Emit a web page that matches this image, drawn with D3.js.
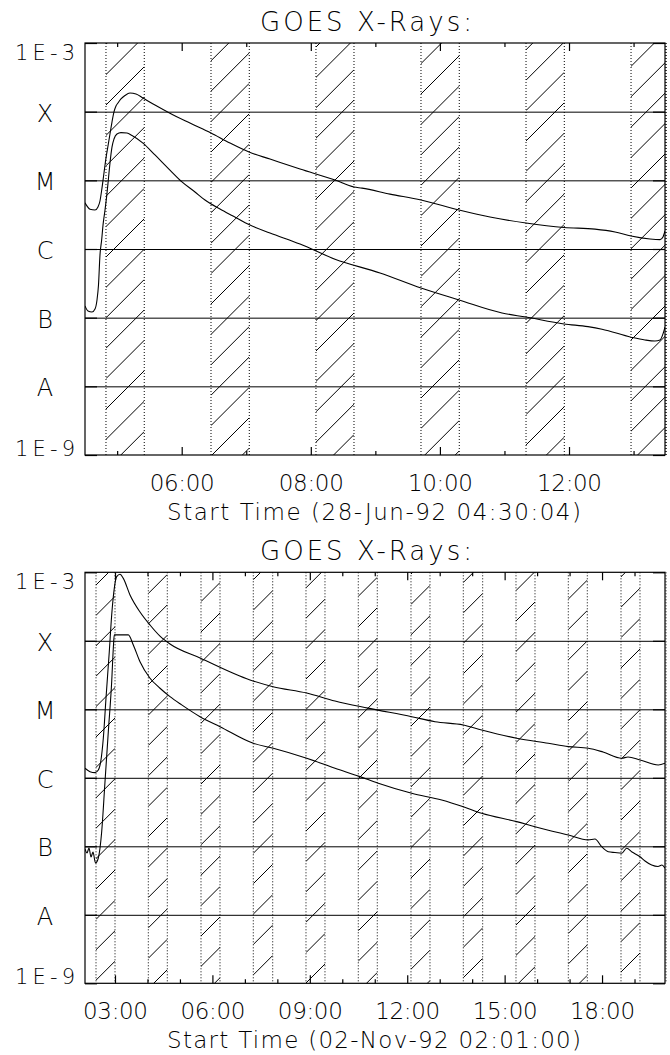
<!DOCTYPE html>
<html>
<head>
<meta charset="utf-8">
<script src="https://cdn.jsdelivr.net/npm/d3@7"></script>
<style>
  body { margin: 0; background: #fff; }
  svg text { font-family: "DejaVu Sans", sans-serif; font-weight: 200; fill: #000; }
</style>
</head>
<body>
<svg id="chart" width="670" height="1055"></svg>
<script>

// ---- data (time in decimal hours UT, flux in W/m^2) ----
var titleText = "GOES X-Rays:";
var levelValues = [1e-3, 1e-4, 1e-5, 1e-6, 1e-7, 1e-8, 1e-9];
var levelLabels = ["1E-3", "X", "M", "C", "B", "A", "1E-9"];

// panel 1 : 28-Jun-92
var topXTitle = "Start Time (28-Jun-92 04:30:04)";
var topRange = [4.502, 13.487];
var topTicks = [6, 8, 10, 12];
var topTickLabels = ["06:00", "08:00", "10:00", "12:00"];
var topMinorTicks = [5, 7, 9, 11, 13];
var topBandStart = [4.827, 6.454, 8.080, 9.707, 11.334, 12.961];
var topBandEnd   = [5.420, 7.047, 8.669, 10.300, 11.927, 13.550];

var topLongTime = [4.502,4.579,4.657,4.703,4.734,4.765,4.796,4.827,4.858,4.889,4.920,4.951,4.982,5.013,5.059,5.121,5.199,5.292,5.400,5.586,5.818,6.128,6.454,6.748,7.043,7.368,7.833,8.375,8.669,8.793,9.227,9.707,10.296,10.776,11.334,11.922,12.403,12.713,12.961,13.255,13.410,13.456,13.487];
var topLongFlux = [4.7e-6,3.8e-6,3.7e-6,4.1e-6,5.0e-6,7.7e-6,1.28e-5,2.11e-5,3.16e-5,4.73e-5,7.06e-5,9.9e-5,1.21e-4,1.34e-4,1.53e-4,1.72e-4,1.87e-4,1.81e-4,1.58e-4,1.25e-4,9.5e-5,6.84e-5,4.89e-5,3.49e-5,2.58e-5,2.04e-5,1.46e-5,1.01e-5,8.0e-6,7.7e-6,6.3e-6,5.16e-6,3.70e-6,2.92e-6,2.39e-6,2.06e-6,1.95e-6,1.77e-6,1.55e-6,1.40e-6,1.37e-6,1.50e-6,1.83e-6];

var topShortTime = [4.502,4.548,4.610,4.657,4.688,4.711,4.734,4.760,4.781,4.812,4.843,4.866,4.889,4.920,4.951,4.997,5.059,5.152,5.230,5.400,5.586,5.818,6.004,6.206,6.361,6.593,6.795,7.058,7.368,7.833,8.375,9.072,9.707,10.296,10.962,11.334,11.922,12.294,12.511,12.961,13.177,13.332,13.410,13.456,13.487];
var topShortFlux = [1.48e-7,1.25e-7,1.21e-7,1.34e-7,1.81e-7,2.99e-7,8.2e-7,1.35e-6,2.23e-6,3.70e-6,6.5e-6,1.08e-5,1.79e-5,3.05e-5,4.0e-5,4.73e-5,4.96e-5,4.89e-5,4.50e-5,3.49e-5,2.34e-5,1.41e-5,9.5e-6,6.76e-6,5.16e-6,3.82e-6,3.02e-6,2.23e-6,1.71e-6,1.18e-6,7.1e-7,4.47e-7,2.70e-7,1.81e-7,1.17e-7,1.02e-7,8.1e-8,7.4e-8,6.8e-8,5.2e-8,4.73e-8,4.57e-8,4.73e-8,5.8e-8,7.3e-8];

// panel 2 : 02-Nov-92
var botXTitle = "Start Time (02-Nov-92 02:01:00)";
var botRange = [2.076, 19.939];
var botTicks = [3, 6, 9, 12, 15, 18];
var botTickLabels = ["03:00", "06:00", "09:00", "12:00", "15:00", "18:00"];
var botMinorTicks = [4, 5, 7, 8, 10, 11, 13, 14, 16, 17, 19];
var botBandStart = [2.415, 4.026, 5.649, 7.259, 8.882, 10.493, 12.116, 13.727, 15.350, 16.961, 18.584];
var botBandEnd   = [3.000, 4.611, 6.234, 7.857, 9.467, 11.078, 12.701, 14.324, 15.935, 17.546, 19.169];

var botLongTime = [2.076,2.230,2.384,2.486,2.560,2.640,2.723,2.824,2.898,2.978,3.052,3.154,3.256,3.462,3.770,4.078,4.386,4.694,5.618,7.158,7.866,8.904,9.776,10.792,12.138,12.855,13.727,14.293,15.371,16.345,16.961,17.577,18.029,18.605,18.799,19.169,19.732,19.939];
var botLongFlux = [1.38e-6,1.23e-6,1.19e-6,1.30e-6,1.72e-6,3.78e-6,1.46e-5,6.93e-5,2.38e-4,5.83e-4,8.63e-4,9.35e-4,8.16e-4,4.67e-4,2.63e-4,1.70e-4,1.17e-4,8.97e-5,5.61e-5,2.68e-5,2.14e-5,1.73e-5,1.32e-5,1.04e-5,7.80e-6,6.59e-6,5.90e-6,4.99e-6,3.78e-6,3.19e-6,2.85e-6,2.70e-6,2.38e-6,1.93e-6,2.01e-6,1.82e-6,1.54e-6,1.63e-6];

var botShortTime = [2.076,2.138,2.199,2.261,2.322,2.399,2.486,2.590,2.692,2.794,2.898,2.948,2.978,3.410,3.564,3.770,4.078,4.386,4.694,5.054,5.618,6.234,7.259,7.875,8.904,9.776,10.545,11.109,12.138,13.062,13.727,14.293,15.371,15.935,16.961,17.577,17.783,17.989,18.193,18.399,18.605,18.759,18.922,19.169,19.323,19.529,19.723,19.846,19.939];
var botShortFlux = [9.15e-8,7.98e-8,9.44e-8,6.98e-8,8.26e-8,5.70e-8,6.75e-8,1.63e-7,8.77e-7,4.71e-6,2.53e-5,7.78e-5,1.22e-4,1.22e-4,8.69e-5,4.95e-5,2.84e-5,2.03e-5,1.53e-5,1.16e-5,7.80e-6,5.57e-6,3.19e-6,2.70e-6,1.93e-6,1.38e-6,1.04e-6,8.32e-7,5.94e-7,4.74e-7,3.78e-7,3.03e-7,2.29e-7,1.93e-7,1.46e-7,1.24e-7,1.28e-7,9.86e-8,8.34e-8,8.11e-8,7.91e-8,9.35e-8,8.26e-8,7.05e-8,6.09e-8,5.33e-8,5.07e-8,5.33e-8,4.78e-8];

// ---- drawing ----
var svg = d3.select("#chart");
var defs = svg.append("defs");
var left = 85, right = 665;
var hatchStep = 30.4;

function pairs(t, f) {
	return t.map(function(d, i){ return [d, f[i]]; });
}

function drawPanel(p) {

	var x = d3.scaleLinear().domain(p.range).range([left, right]);
	var y = d3.scaleLog().domain([1e-9, 1e-3]).range([p.bottom, p.top]);
	var g = svg.append("g");

	defs.append("clipPath").attr("id", "clip" + p.key)
		.append("rect")
		.attr("x", left).attr("y", p.top)
		.attr("width", right - left).attr("height", p.bottom - p.top);

	// hatched bands with dotted edges
	var bg = g.append("g").attr("clip-path", "url(#clip" + p.key + ")");
	p.bandStart.forEach(function(s, i){
		var x1 = x(s), x2 = Math.min(x(p.bandEnd[i]), right + 1);
		var bid = "band" + p.key + i;
		defs.append("clipPath").attr("id", bid)
			.append("rect")
			.attr("x", x1).attr("y", p.top)
			.attr("width", x2 - x1).attr("height", p.bottom - p.top);
		var hg = bg.append("g").attr("clip-path", "url(#" + bid + ")");
		var k0 = Math.floor((x1 + p.top - p.phase) / hatchStep);
		for (var k = k0; p.phase + k * hatchStep <= x2 + p.bottom; k++) {
			var c = p.phase + k * hatchStep;
			hg.append("line")
				.attr("x1", x1).attr("y1", c - x1)
				.attr("x2", x2).attr("y2", c - x2)
				.attr("stroke", "#000").attr("stroke-width", 1);
		}
		[x1, x2].forEach(function(xx){
			g.append("line")
				.attr("x1", xx).attr("x2", xx)
				.attr("y1", p.top).attr("y2", p.bottom)
				.attr("stroke", "#000").attr("stroke-width", 1)
				.attr("stroke-dasharray", "1,2");
		});
	});

	// class level lines
	var grid = g.append("g")
		.attr("transform", "translate(" + left + ",0)")
		.call(d3.axisLeft(y).tickValues(levelValues.slice(1, 6)).tickSize(-(right - left)).tickFormat(""));
	grid.select(".domain").remove();
	grid.selectAll("line").attr("stroke", "#000");

	// light curves
	var line = d3.line()
		.x(function(d){ return x(d[0]); })
		.y(function(d){ return y(d[1]); })
		.curve(d3.curveMonotoneX);

	[pairs(p.longT, p.longF), pairs(p.shortT, p.shortF)].forEach(function(ser){
		g.append("path")
			.attr("clip-path", "url(#clip" + p.key + ")")
			.attr("d", line(ser))
			.attr("fill", "none")
			.attr("stroke", "#000")
			.attr("stroke-width", 1.1);
	});

	// frame
	g.append("rect")
		.attr("x", left).attr("y", p.top)
		.attr("width", right - left).attr("height", p.bottom - p.top)
		.attr("fill", "none").attr("stroke", "#000").attr("stroke-width", 1.2);

	// x axes (ticks point inward)
	var xb = g.append("g").attr("transform", "translate(0," + p.bottom + ")")
		.call(d3.axisBottom(x).tickValues(p.ticks).tickSize(-8).tickFormat(function(d, i){ return p.tickLabels[i]; }));
	xb.append("g").call(d3.axisBottom(x).tickValues(p.minor).tickSize(-4).tickFormat(""));
	var xt = g.append("g").attr("transform", "translate(0," + p.top + ")")
		.call(d3.axisTop(x).tickValues(p.ticks).tickSize(-8).tickFormat(""));
	xt.append("g").call(d3.axisTop(x).tickValues(p.minor).tickSize(-4).tickFormat(""));

	xb.selectAll("text")
		.attr("y", 35.5).attr("dy", null)
		.attr("font-size", 23)
		.attr("textLength", 65).attr("lengthAdjust", "spacing");

	// y axes
	var yl = g.append("g").attr("transform", "translate(" + left + ",0)")
		.call(d3.axisLeft(y).tickValues(levelValues).tickSize(-12).tickFormat(function(d, i){ return levelLabels[i]; }));
	var yr = g.append("g").attr("transform", "translate(" + right + ",0)")
		.call(d3.axisRight(y).tickValues(levelValues).tickSize(-12).tickFormat(""));

	yl.selectAll("text")
		.attr("x", -40).attr("dy", null)
		.attr("text-anchor", "middle")
		.attr("font-size", function(d, i){ return (i === 0 || i === 6) ? 21 : 24; })
		.attr("y", function(d, i){ return i === 0 ? 16.5 : (i === 6 ? 0 : 9.5); })
		.each(function(d, i){
			if (i === 0 || i === 6) d3.select(this).attr("textLength", 60).attr("lengthAdjust", "spacing");
		});

	[xb, xt, yl, yr].forEach(function(a){
		a.selectAll(".domain").remove();
		a.attr("font-family", null).attr("font-size", null);
		a.selectAll("line").attr("stroke", "#000").attr("stroke-width", 1.2);
	});

	// right edge dotted
	g.append("line")
		.attr("x1", right + 1).attr("x2", right + 1)
		.attr("y1", p.top).attr("y2", p.bottom)
		.attr("stroke", "#000").attr("stroke-dasharray", "1,2");

	// titles
	g.append("text")
		.attr("x", 366).attr("y", p.top - 12.5)
		.attr("text-anchor", "middle")
		.attr("font-size", 26)
		.attr("textLength", 212).attr("lengthAdjust", "spacing")
		.text(titleText);

	g.append("text")
		.attr("x", 374).attr("y", p.bottom + 65)
		.attr("text-anchor", "middle")
		.attr("font-size", 23)
		.attr("textLength", 414).attr("lengthAdjust", "spacing")
		.text(p.xTitle);
}

drawPanel({
	key: "a", top: 43, bottom: 455, phase: 211,
	range: topRange, ticks: topTicks, tickLabels: topTickLabels, minor: topMinorTicks,
	bandStart: topBandStart, bandEnd: topBandEnd,
	longT: topLongTime, longF: topLongFlux, shortT: topShortTime, shortF: topShortFlux,
	xTitle: topXTitle
});

drawPanel({
	key: "b", top: 572.3, bottom: 983.3, phase: 681,
	range: botRange, ticks: botTicks, tickLabels: botTickLabels, minor: botMinorTicks,
	bandStart: botBandStart, bandEnd: botBandEnd,
	longT: botLongTime, longF: botLongFlux, shortT: botShortTime, shortF: botShortFlux,
	xTitle: botXTitle
});

</script>
</body>
</html>
